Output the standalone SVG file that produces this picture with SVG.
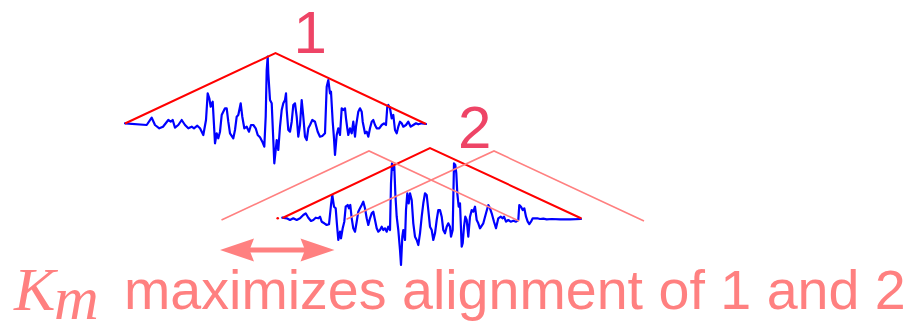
<svg xmlns="http://www.w3.org/2000/svg" width="915" height="322" viewBox="0 0 915 322">
<style>
.wave{fill:none;stroke:#0000ff;stroke-width:2.2;stroke-linejoin:round;stroke-linecap:round}
.env{fill:none;stroke:#ff0000;stroke-width:2}
.shift{fill:none;stroke:#ff8080;stroke-width:1.6}
.num{font-family:"Liberation Sans",Arial,sans-serif;font-size:60px;fill:#ee4466}
.cap{font-family:"Liberation Sans",Arial,sans-serif;font-size:55.6px;fill:#ff8080}
.math{font-family:"Liberation Serif","Times New Roman",serif;font-style:italic;font-size:62px;fill:#ff8080}
</style>
<rect width="915" height="322" fill="#ffffff"/>
<g id="signal1">
<polyline class="wave" points="125,123.3 146.7,125 151.7,117.7 155,125 159.3,128.3 163,126.7 168.3,120 170.7,121.7 172.7,120 175,127.7 178.3,125 181.7,120 185,125 188.3,128.3 191.7,126.7 194,128.3 197.3,125.7 200,128.3 203.3,135 206,120 207.7,93.3 209.3,98.3 210.7,106.7 212.7,101.7 215,143.3 216.7,133.3 218.3,138.3 220,131.7 221.7,115 225,108.3 226.7,108.3 228.3,121.7 230,133.3 233.3,138.3 235,130 236.7,116.7 238.3,115 240.7,103.3 242.3,116.7 244.3,128.3 246.7,126.7 249,131.7 251,125 253.3,125 255.7,128.3 257.7,135 260,137.3 262.3,141.7 264.3,146.7 265.7,116.7 266.7,70 267.7,56.7 268.3,73.3 270,100 271.7,103.3 273.3,140 274.3,163.3 275.7,150 276.7,140 278.3,150 280,126.7 281.7,110 283.3,103.3 285,100 286,93.3 286.7,110 288.3,130 290,131.7 291.7,121.7 293.3,105 295,103.3 296.7,116.7 298.3,136.7 300,125 301.7,100 303.3,116.7 305,136.7 306.7,140 308.3,128.3 310,125 312.3,120 315,121.7 317.7,131.7 320,136.7 322.3,136 325,133.3 326.7,86.7 328.3,80 330,93.3 331,91.7 332.7,121.7 334,138.3 335,155 336.7,135 338.3,128.3 340,135 341.7,108.3 343.3,110 345,108.3 346,118.3 347.3,128.3 348.3,135 350,128.3 351.7,133.3 353.3,121.7 355,136.7 356,126.7 358.3,111.7 360,108.3 361.7,111.7 362.7,121.7 365,133.3 366.7,131.7 368.3,136.7 370,128.3 371.7,121.7 373.3,120 375,125 376.7,128.3 379.3,128.3 381.7,125 384,123.3 386,125 387.3,106.7 388.3,105 390,108.3 391.7,118.3 393.3,115 395,130 396.7,133.3 398.3,126.7 400,121.7 401.7,123.3 403.3,126.7 406,125 408.3,121.7 410.7,126.7 413.3,125 416,123.3 418.3,124.3 421.7,123.3 426,124"/>
<polyline class="env" points="125,123.5 275.5,53 426,124"/>
<text class="num" x="293.5" y="53">1</text>
</g>
<g id="signal2">
<circle cx="277.7" cy="218.2" r="1.3" fill="#ff0000"/>
<polyline class="wave" points="282.3,217.7 286.7,218.3 290,220 293.3,218.3 296.7,220 300,218.3 303.3,215 305.7,213.3 308.3,217.7 311,221 313.3,220 315.7,217.7 318.3,218.3 320,216.7 321.7,221.7 324.3,223.3 326.7,225 329,224.3 331,205 332.3,195 334,206.7 335.7,208.3 337,225 338.3,240 340,231.7 341,238.3 342.7,228.3 344.3,221.7 345.7,206.7 347.7,205 349,208.3 350.3,205 351.7,218.3 353.3,228.3 355,231.7 356.7,221.7 358.3,211.7 360,208.3 361.7,205 363.3,201.7 365,208.3 366.7,218.3 368.3,225 370,218.3 371.7,213.3 373.3,211.7 375,220 376.7,228.3 378.3,231.7 380,230 381.7,226.7 383.3,230 385,228.3 386.7,231.7 388.3,226.7 390,230 391,183.3 392,163.3 393.3,170 394.3,166.7 395.3,193.3 396.7,216.7 398.3,230 400,250 401,265 402.3,236.7 403.3,230 405,240 406,210 407.3,193.3 408.7,203.3 410,193.3 411.7,200 413.3,223.3 415,236.7 416.7,240 418.3,245 420,233.3 421.7,216.7 423.3,203.3 425,193.3 426.7,195 428.3,210 430,226.7 431.7,230 433.3,240 435,233.3 436.7,220 438.3,210 440,210 441.7,216.7 443.3,230 445,233.3 446.7,226.7 448.3,223.3 450,226.7 451,236.7 452.7,230 454,163.3 455.3,165 456.3,173.3 457.3,193.3 458.7,206.7 460,203.3 461.7,246.7 462.7,243.3 464,226.7 465.3,216.7 466.7,220 468.3,236.7 470,216.7 471.7,210 473.3,211.7 475,206.7 476.7,220 478.3,223.3 480,228.3 483.3,223.3 486,213.3 488.3,205 490,208.3 491.7,213.3 494,221.7 496,228.3 498.3,218.3 500.7,216.7 502.7,218.3 504,216.7 506,221.7 508.3,220 510.7,221.7 513.3,220.7 516,221.7 518.3,220 519.3,205 521,206.7 522.7,210 524.3,208.3 526,216.7 527.7,221.7 529.3,224 531,221.7 532.7,218.3 535,218.3 537.3,218.3 540,219 543.3,218.7 546.7,219.3 551.7,219 560,219.3 570,219.3 581,219"/>
<polyline class="env" points="282.5,218 430,148 581.5,218.5"/>
<text class="num" x="458" y="148">2</text>
</g>
<g id="shifted-envelopes">
<polyline class="shift" points="221.5,220 369,151 519,221"/>
<polyline class="shift" points="346.5,219.3 494,151 644,221"/>
</g>
<g id="connectors">
<line x1="240" y1="250" x2="315" y2="250" stroke="#ff8080" stroke-width="5"/>
<polygon points="220,250 254,238.5 249.5,250 254,261.5" fill="#ff8080"/>
<polygon points="334.5,250 300.5,238.5 305,250 300.5,261.5" fill="#ff8080"/>
</g>
<g id="caption">
<text class="math" x="14" y="310">K</text>
<text class="math" x="54" y="318.5">m</text>
<text class="cap" x="124" y="309">maximizes alignment of 1 and 2</text>
</g>
</svg>
